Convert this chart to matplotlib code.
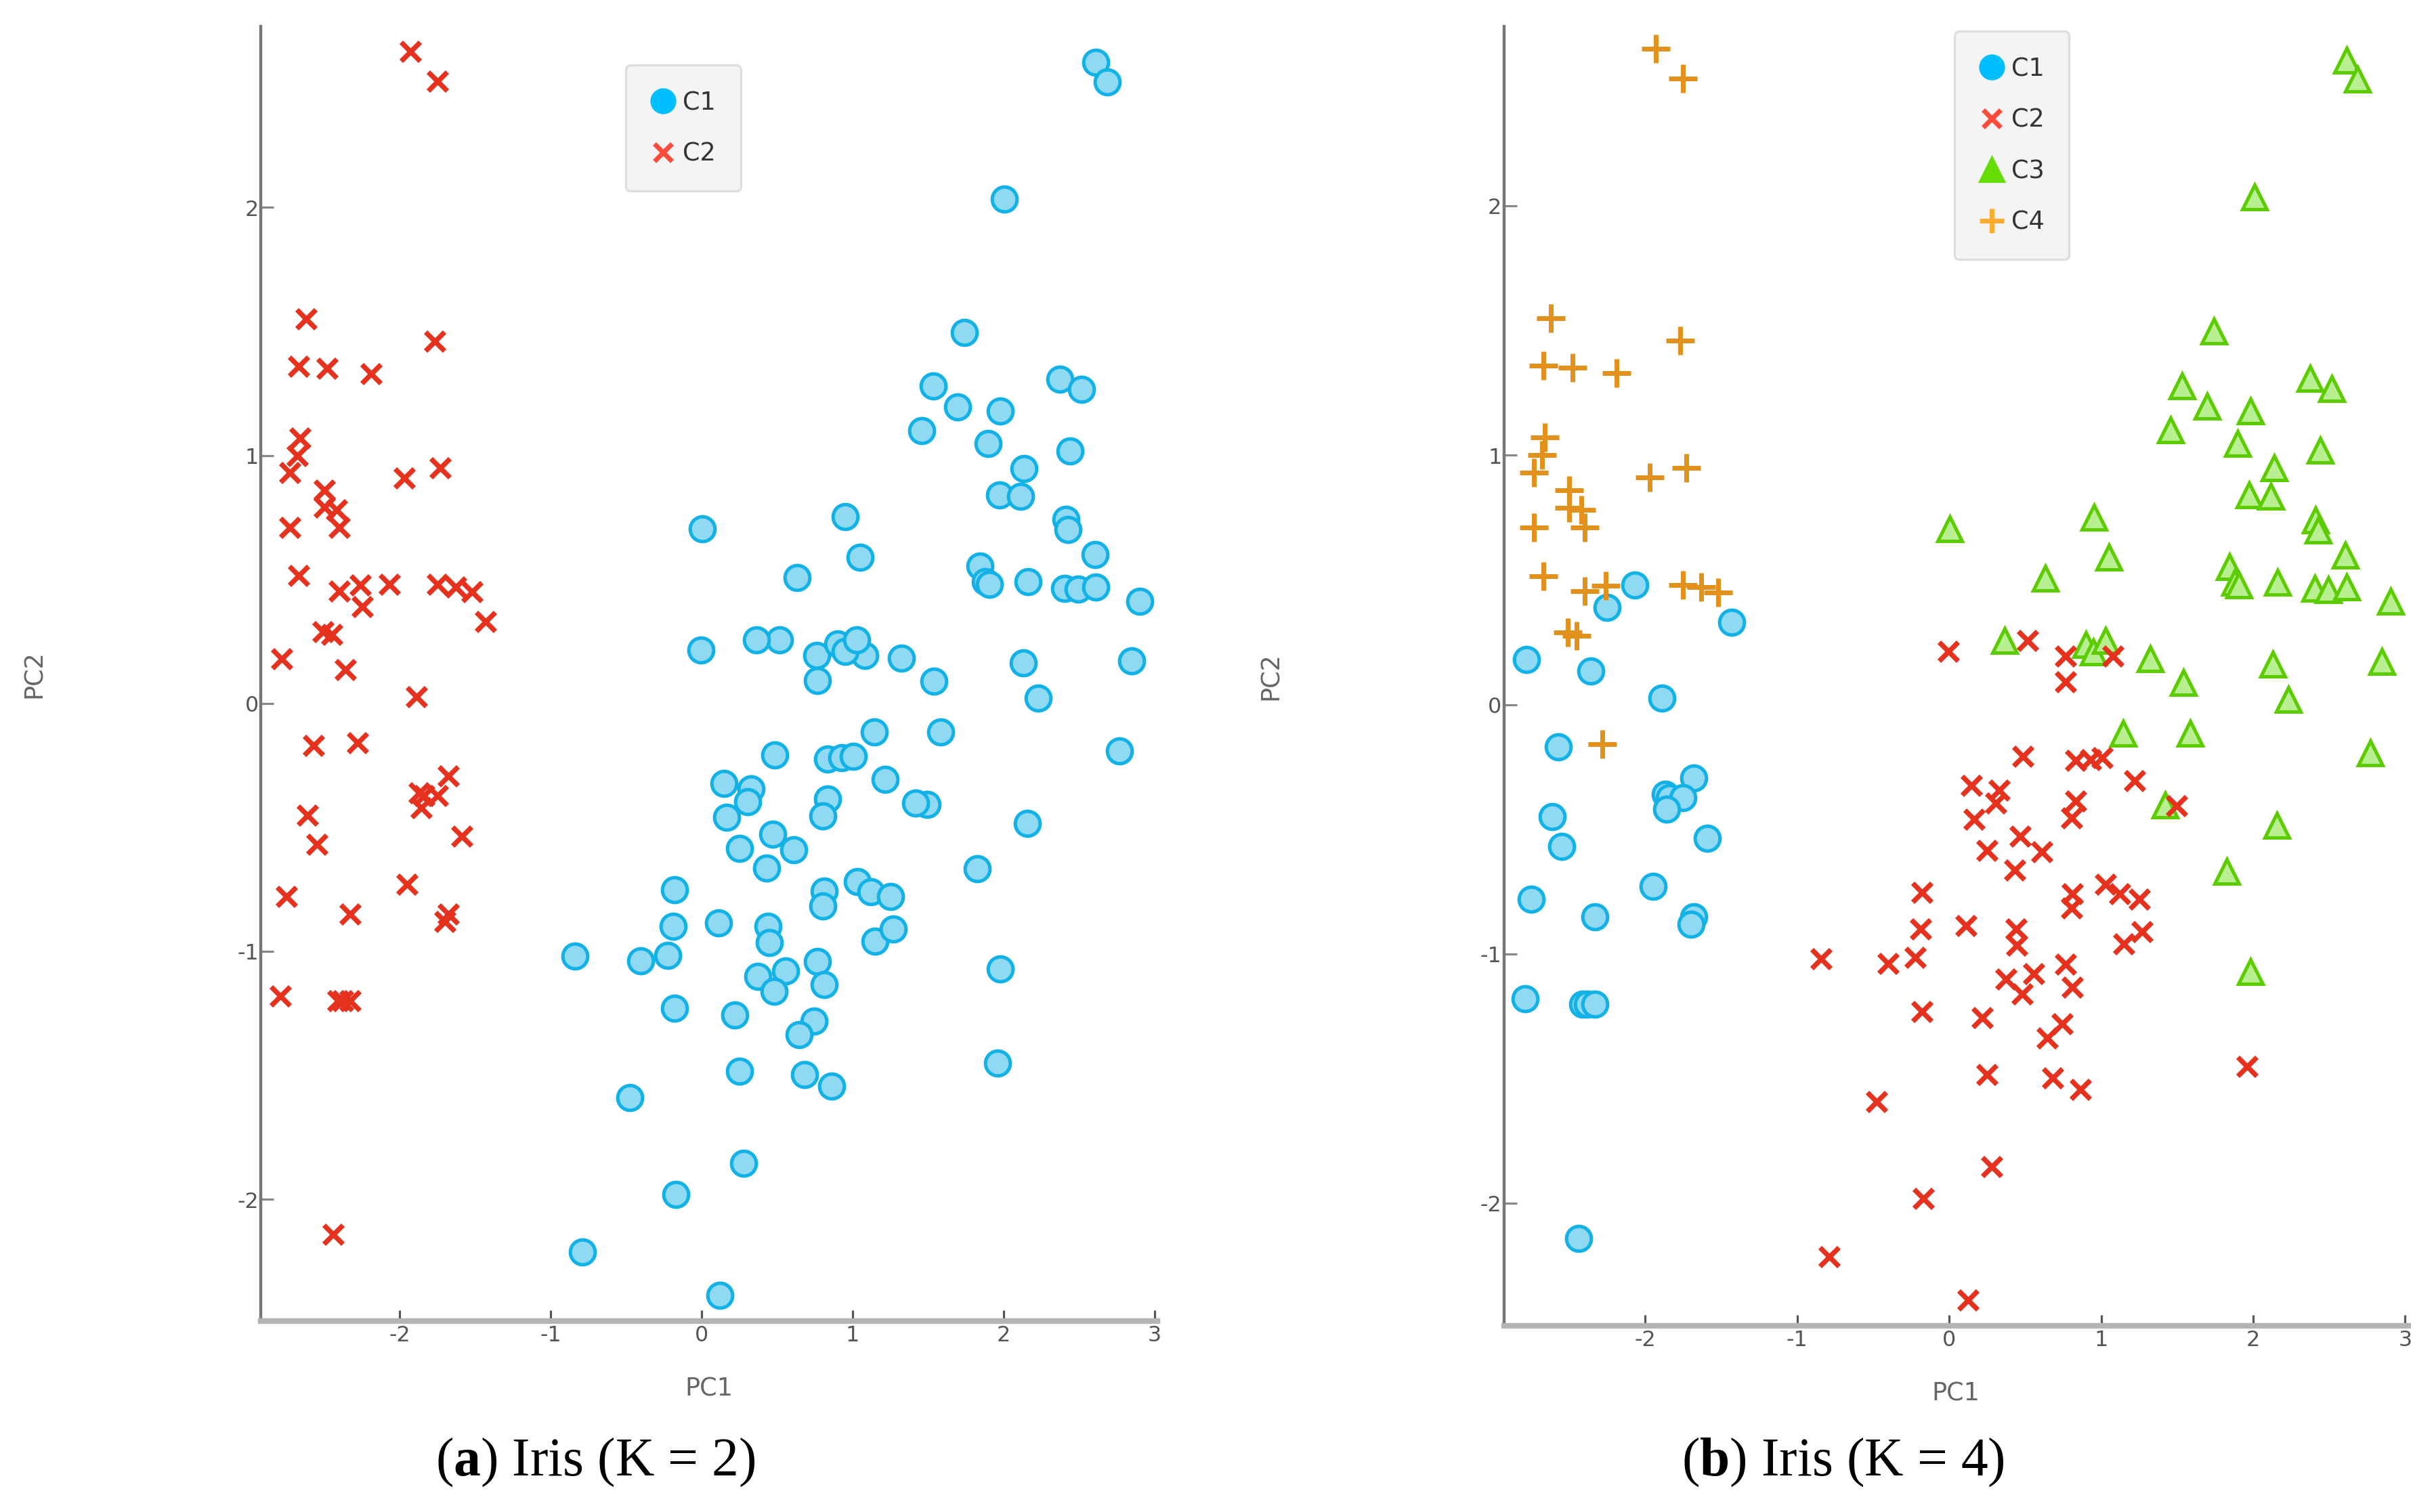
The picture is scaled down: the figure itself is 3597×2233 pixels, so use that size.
import matplotlib
matplotlib.use("Agg")
import matplotlib.pyplot as plt
from matplotlib.lines import Line2D
from matplotlib import font_manager

# PCA coordinates of the Iris points, grouped by the K = 4 clustering (panel b)
# C1: lower-left group (blue circles)
c1_pc1 = [-2.07, -2.25, -1.43, -2.78, -2.36, -1.89, -2.57, -1.68, -1.87, -1.84,
          -1.75, -1.86, -2.61, -2.55, -1.59, -2.75, -2.33, -1.95, -1.68, -1.70,
          -2.79, -2.41, -2.38, -2.33, -2.44]
c1_pc2 = [0.48, 0.39, 0.33, 0.18, 0.135, 0.026, -0.17, -0.294, -0.36, -0.373,
          -0.373, -0.42, -0.45, -0.568, -0.535, -0.78, -0.85, -0.73, -0.85, -0.88,
          -1.18, -1.20, -1.20, -1.20, -2.14]

# C2: middle group (red crosses)
c2_pc1 = [-0.003, 0.518, 0.764, 0.767, 0.484, 0.833, 0.93, 0.146, 0.327, 0.305,
          0.164, 0.833, 0.804, 0.469, 0.25, 0.61, 0.43, 1.079, 1.005, 1.218,
          1.496, -0.179, 0.811, 0.804, 0.111, -0.19, 0.439, 0.447, -0.841, -0.402,
          -0.223, 0.766, 0.372, 0.558, 0.479, 0.811, -0.179, 0.219, 0.744, 0.647,
          0.25, 0.682, 0.863, -0.477, 0.278, -0.171, -0.789, 0.122, 1.03, 1.12,
          1.25, 1.15, 1.27, 1.96]
c2_pc2 = [0.214, 0.256, 0.193, 0.092, -0.208, -0.224, -0.22, -0.323, -0.344, -0.396,
          -0.459, -0.386, -0.454, -0.527, -0.584, -0.59, -0.663, 0.193, -0.214, -0.306,
          -0.407, -0.752, -0.758, -0.817, -0.886, -0.90, -0.90, -0.965, -1.02, -1.039,
          -1.015, -1.041, -1.10, -1.079, -1.16, -1.133, -1.23, -1.256, -1.28, -1.337,
          -1.484, -1.496, -1.544, -1.591, -1.854, -1.981, -2.213, -2.388, -0.72, -0.76,
          -0.78, -0.96, -0.91, -1.45]

# C3: upper-right group (green triangles)
c3_pc1 = [0.003, 0.633, 0.953, 0.365, 0.90, 0.95, 1.05, 1.973, 2.114, 2.412,
          2.427, 2.605, 1.846, 1.88, 1.905, 2.162, 2.404, 2.494, 2.613, 2.903,
          1.027, 1.322, 1.541, 2.129, 2.23, 2.847, 1.143, 1.586, 2.769, 1.419,
          2.156, 1.824, 2.613, 2.687, 2.007, 1.742, 1.533, 2.375, 2.519, 1.697,
          1.98, 1.456, 1.898, 2.439, 2.136, 1.98]
c3_pc2 = [0.705, 0.507, 0.752, 0.256, 0.24, 0.21, 0.59, 0.84, 0.835, 0.741,
          0.70, 0.60, 0.553, 0.49, 0.48, 0.491, 0.465, 0.46, 0.47, 0.413,
          0.256, 0.183, 0.089, 0.162, 0.021, 0.172, -0.115, -0.115, -0.193, -0.402,
          -0.485, -0.668, 2.584, 2.507, 2.035, 1.497, 1.279, 1.308, 1.267, 1.196,
          1.178, 1.101, 1.048, 1.019, 0.948, -1.07]

# C4: upper-left group (orange plus signs)
c4_pc1 = [-1.93, -1.75, -2.62, -1.77, -2.67, -2.48, -2.19, -2.66, -2.68, -2.73,
          -1.97, -1.73, -2.50, -2.50, -2.42, -2.40, -2.73, -2.67, -2.40, -2.26,
          -1.75, -1.63, -1.52, -2.51, -2.45, -2.28]
c4_pc2 = [2.63, 2.51, 1.55, 1.46, 1.36, 1.35, 1.33, 1.07, 1.00, 0.93,
          0.91, 0.95, 0.86, 0.79, 0.78, 0.71, 0.71, 0.515, 0.454, 0.478,
          0.48, 0.47, 0.45, 0.29, 0.277, -0.16]

# K = 2 (panel a): the left group is C2, everything else is C1
k2_c1_pc1 = c2_pc1 + c3_pc1
k2_c1_pc2 = c2_pc2 + c3_pc2
k2_c2_pc1 = c1_pc1 + c4_pc1
k2_c2_pc2 = c1_pc2 + c4_pc2

x_ticks = [-2, -1, 0, 1, 2, 3]
y_ticks = [-2, -1, 0, 1, 2]

BLUE_EDGE, BLUE_FACE = "#12b2e6", "#8fd9f3"
RED = "#e5321f"
GREEN_EDGE, GREEN_FACE = "#5ccc00", "#b8ef90"
ORANGE = "#e2921c"

names = {f.name for f in font_manager.fontManager.ttflist}
TICK_FONT = "Liberation Sans Narrow" if "Liberation Sans Narrow" in names else "DejaVu Sans"

plt.rcParams["axes.unicode_minus"] = False
plt.rcParams["mathtext.fontset"] = "custom"
plt.rcParams["mathtext.rm"] = "Liberation Serif"
plt.rcParams["mathtext.bf"] = "Liberation Serif:bold"

styles = {
    "C1": dict(marker="o", ms=11.5, mfc=BLUE_FACE, mec=BLUE_EDGE, mew=1.6, ls="none"),
    "C2": dict(marker="x", ms=8.5, color=RED, mew=2.3, ls="none"),
    "C3": dict(marker="^", ms=11.5, mfc=GREEN_FACE, mec=GREEN_EDGE, mew=1.6, ls="none"),
    "C4": dict(marker="+", ms=13, color=ORANGE, mew=2.2, ls="none"),
}
legend_handles = {
    "C1": Line2D([], [], marker="o", ms=11, color="#00bfff", ls="none"),
    "C2": Line2D([], [], marker="x", ms=8, color="#ff4b3a", mew=2.2, ls="none"),
    "C3": Line2D([], [], marker="^", ms=11, color="#66dd00", ls="none"),
    "C4": Line2D([], [], marker="+", ms=11, color="#ffab30", mew=2.2, ls="none"),
}


def style_axes(ax, xlim, ylim, ylabel_x):
    ax.set_xlim(*xlim)
    ax.set_ylim(*ylim)
    for side in ("top", "right"):
        ax.spines[side].set_visible(False)
    ax.spines["left"].set_color("#777777")
    ax.spines["left"].set_linewidth(1.4)
    ax.spines["bottom"].set_color("#b4b4b4")
    ax.spines["bottom"].set_linewidth(2.6)
    ax.set_xticks(x_ticks)
    ax.set_yticks(y_ticks)
    ax.tick_params(axis="x", direction="in", length=5, width=1, color="#555555",
                   pad=2, labelsize=10, labelcolor="#555555")
    ax.tick_params(axis="y", direction="in", length=6, width=1, color="#888888",
                   pad=1, labelsize=10, labelcolor="#555555")
    for lab in ax.get_xticklabels() + ax.get_yticklabels():
        lab.set_fontfamily(TICK_FONT)
    ax.set_xlabel("PC1", fontsize=11.5, color="#666666", labelpad=14, fontfamily=TICK_FONT)
    ax.set_ylabel("PC2", fontsize=11.5, color="#666666", fontfamily=TICK_FONT)
    ax.yaxis.set_label_coords(ylabel_x, 0.5)


def add_legend(ax, keys, anchor):
    leg = ax.legend([legend_handles[k] for k in keys], keys, loc="upper left",
                    bbox_to_anchor=anchor, frameon=True, fancybox=True,
                    fontsize=11.5, handlelength=1.0, handletextpad=0.3,
                    borderpad=1.0, labelspacing=1.05, borderaxespad=0)
    frame = leg.get_frame()
    frame.set_facecolor("#f4f4f4")
    frame.set_edgecolor("#dddddd")
    frame.set_linewidth(1.0)
    frame.set_alpha(1)
    for t in leg.get_texts():
        t.set_color("#333333")
        t.set_fontfamily(TICK_FONT)


fig = plt.figure(figsize=(3597.3 / 229.4, 2233.3 / 229.4), dpi=229.4)

# (a) K = 2
ax1 = fig.add_axes([0.1071, 0.1264, 0.368, 0.856])
ax1.plot(k2_c1_pc1, k2_c1_pc2, **styles["C1"])
ax1.plot(k2_c2_pc1, k2_c2_pc2, **styles["C2"])
style_axes(ax1, (-2.92, 3.02), (-2.49, 2.73), -0.239)
add_legend(ax1, ["C1", "C2"], (0.407, 0.970))

# (b) K = 4
ax2 = fig.add_axes([0.6173, 0.1233, 0.3712, 0.8592])
ax2.plot(c1_pc1, c1_pc2, **styles["C1"])
ax2.plot(c3_pc1, c3_pc2, **styles["C3"])
ax2.plot(c2_pc1, c2_pc2, **styles["C2"])
ax2.plot(c4_pc1, c4_pc2, **styles["C4"])
style_axes(ax2, (-2.93, 3.02), (-2.49, 2.72), -0.244)
add_legend(ax2, ["C1", "C2", "C3", "C4"], (0.498, 0.996))

fig.text(383 / 1568, 1 - 941 / 973, r"($\mathbf{a}$) Iris (K = 2)", ha="center", va="center",
         fontsize=25, fontfamily="Liberation Serif")
fig.text(1186 / 1568, 1 - 941 / 973, r"($\mathbf{b}$) Iris (K = 4)", ha="center", va="center",
         fontsize=25, fontfamily="Liberation Serif")

fig.savefig("out.png", dpi=229.4)
